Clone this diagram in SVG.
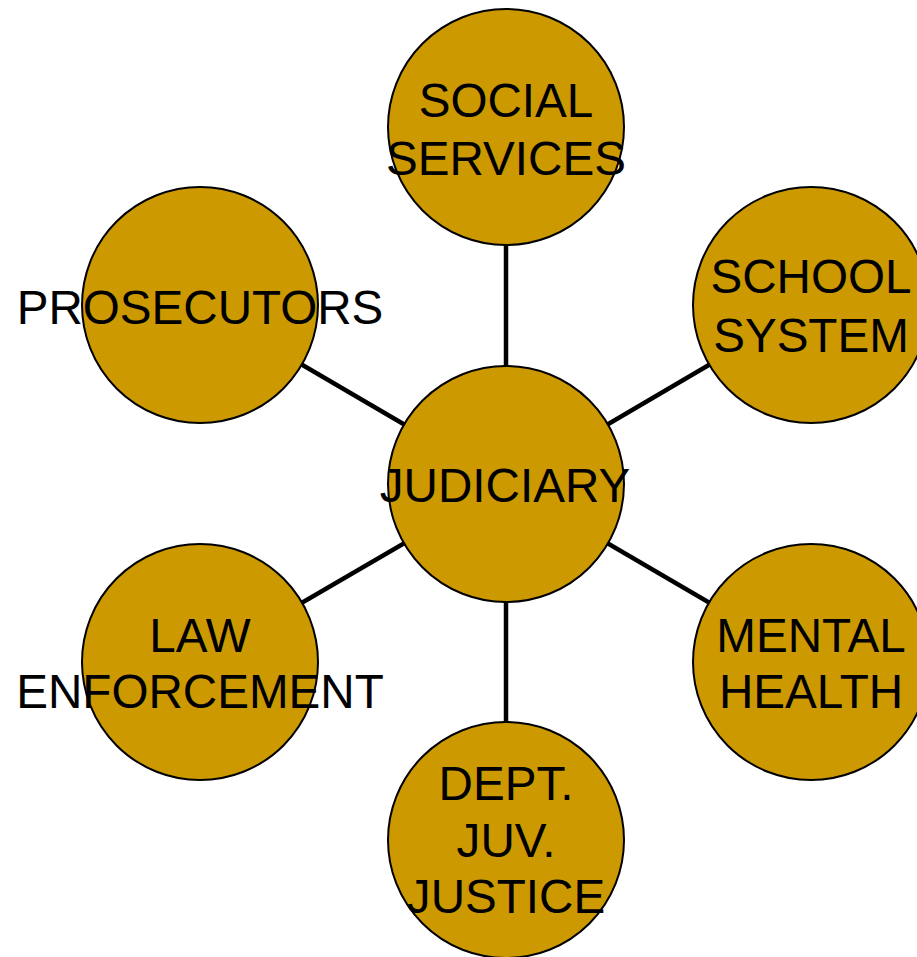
<svg xmlns="http://www.w3.org/2000/svg" width="917" height="957" viewBox="0 0 917 957">
<style>
.n{fill:#CC9900;stroke:#000;stroke-width:2}
.t{font-family:"Liberation Sans",Arial,sans-serif;font-size:47.6px;fill:#000;text-anchor:middle}
.c{stroke:#000;stroke-width:4.5;fill:none}
</style>
<rect width="917" height="957" fill="#fff"/>
<g id="connectors">
<line class="c" x1="506" y1="484" x2="506" y2="127"/>
<line class="c" x1="506" y1="484" x2="811" y2="305"/>
<line class="c" x1="506" y1="484" x2="200" y2="305"/>
<line class="c" x1="506" y1="484" x2="811" y2="662"/>
<line class="c" x1="506" y1="484" x2="200" y2="662"/>
<line class="c" x1="506" y1="484" x2="506" y2="840"/>
</g>
<g id="social-services">
<circle class="n" cx="506" cy="127" r="118"/>
<text class="t" x="506" y="117">SOCIAL</text>
<text class="t" x="506" y="175">SERVICES</text>
</g>
<g id="school-system">
<circle class="n" cx="811" cy="305" r="118"/>
<text class="t" x="811" y="293">SCHOOL</text>
<text class="t" x="811" y="352">SYSTEM</text>
</g>
<g id="prosecutors">
<circle class="n" cx="200" cy="305" r="118"/>
<text class="t" x="200" y="324">PROSECUTORS</text>
</g>
<g id="judiciary">
<circle class="n" cx="506" cy="484" r="118"/>
<text class="t" x="505" y="502">JUDICIARY</text>
</g>
<g id="law-enforcement">
<circle class="n" cx="200" cy="662" r="118"/>
<text class="t" x="200" y="652">LAW</text>
<text class="t" x="200" y="708">ENFORCEMENT</text>
</g>
<g id="mental-health">
<circle class="n" cx="811" cy="662" r="118"/>
<text class="t" x="811" y="652">MENTAL</text>
<text class="t" x="811" y="708">HEALTH</text>
</g>
<g id="dept-juv-justice">
<circle class="n" cx="506" cy="840" r="118"/>
<text class="t" x="506" y="800">DEPT.</text>
<text class="t" x="506" y="857">JUV.</text>
<text class="t" x="506" y="913">JUSTICE</text>
</g>
</svg>
